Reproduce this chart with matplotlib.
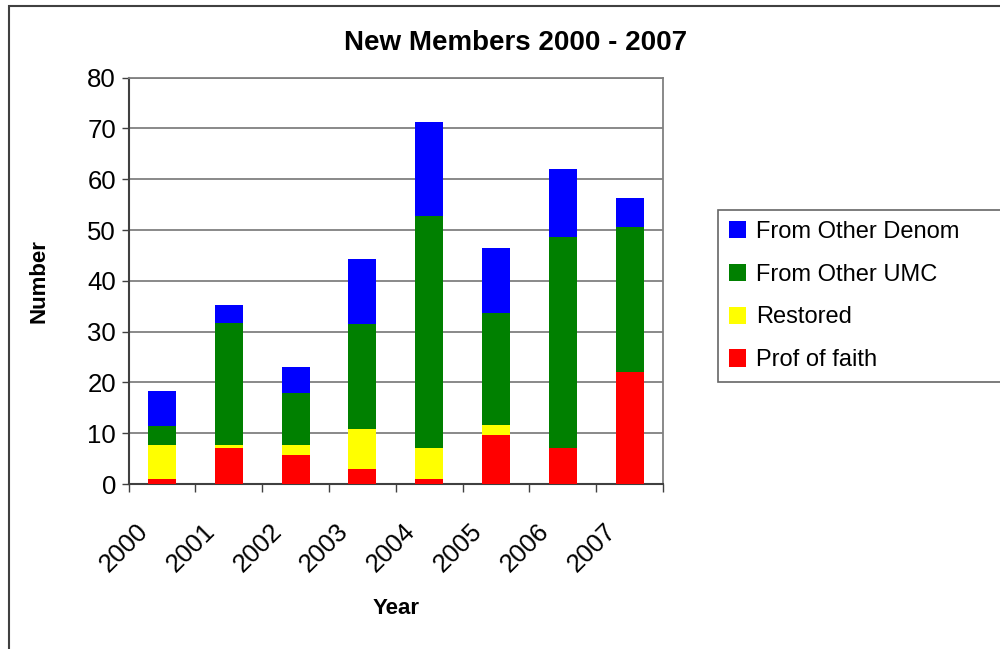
import numpy as np
import matplotlib
matplotlib.use("Agg")
import matplotlib.pyplot as plt
from matplotlib.patches import Rectangle
from matplotlib.ticker import FixedLocator, NullFormatter
from matplotlib.transforms import ScaledTranslation

plt.rcParams['font.family'] = ['Liberation Sans', 'DejaVu Sans']

# new members by year, split by how they joined
years = ['2000', '2001', '2002', '2003', '2004', '2005', '2006', '2007']
prof_of_faith = [1.0, 7.0, 5.7, 3.0, 1.0, 9.7, 7.0, 22.0]
restored = [6.7, 0.7, 2.0, 7.8, 6.0, 2.0, 0.0, 0.0]
from_other_umc = [3.8, 24.0, 10.3, 20.8, 45.7, 22.0, 41.7, 28.7]
from_other_denom = [6.8, 3.6, 5.1, 12.7, 18.6, 12.7, 13.4, 5.6]

series = [
    ('Prof of faith', prof_of_faith, '#ff0000'),
    ('Restored', restored, '#ffff00'),
    ('From Other UMC', from_other_umc, '#008000'),
    ('From Other Denom', from_other_denom, '#0000ff'),
]

fig = plt.figure(figsize=(10, 6.49), dpi=100)
ax = fig.add_axes([0.1285, 0.2542, 0.5345, 0.6261])

x = np.arange(len(years))
bottom = np.zeros(len(years))
bars = []
for name, vals, col in series:
    b = ax.bar(x, vals, width=0.42, bottom=bottom, color=col, label=name,
               edgecolor='none', zorder=3)
    bars.append(b)
    bottom += np.array(vals)

ax.set_xlim(-0.5, len(years) - 0.5)
ax.set_ylim(0, 80)
ax.set_yticks(np.arange(0, 81, 10))
ax.tick_params(axis='y', labelsize=18.5, length=5, width=1, color='#404040', pad=4)

# category labels at centres, tick marks between categories
ax.set_xticks(x)
ax.set_xticklabels(years, rotation=45, ha='right', va='top',
                   rotation_mode='anchor', fontsize=18.5)
ax.tick_params(axis='x', which='major', length=0, pad=25)
shift = ScaledTranslation(-0.26, 0, fig.dpi_scale_trans)
for lbl in ax.get_xticklabels():
    lbl.set_transform(lbl.get_transform() + shift)
ax.xaxis.set_minor_locator(FixedLocator(np.arange(-0.5, len(years), 1.0)))
ax.xaxis.set_minor_formatter(NullFormatter())
ax.tick_params(axis='x', which='minor', length=6, width=1, color='#404040')

ax.grid(axis='y', color='#808080', linewidth=1.3, zorder=0)
ax.set_axisbelow(True)
for side in ['top', 'right']:
    ax.spines[side].set_color('#808080')
    ax.spines[side].set_linewidth(1.3)
for side in ['left', 'bottom']:
    ax.spines[side].set_color('#404040')
    ax.spines[side].set_linewidth(1.5)

ax.set_ylabel('Number', fontsize=16, fontweight='bold')
ax.set_xlabel('Year', fontsize=16, fontweight='bold')
ax.yaxis.set_label_coords(-0.147, 0.5)
ax.xaxis.set_label_coords(0.5, -0.28)

fig.text(0.516, 0.923, 'New Members 2000 - 2007', ha='center', va='baseline',
         fontsize=20, fontweight='bold')

handles = bars[::-1]
labels = [s[0] for s in series][::-1]
leg = fig.legend(handles, labels, loc='upper left',
                 bbox_to_anchor=(0.718, 0.411, 0.30, 0.265), mode='expand',
                 fontsize=17, frameon=True, fancybox=False, borderpad=0.45,
                 labelspacing=0.88, handlelength=0.75, handleheight=0.75,
                 handletextpad=0.4, borderaxespad=0)
leg.get_frame().set_edgecolor('#404040')
leg.get_frame().set_linewidth(1.2)

# outer chart border
fig.patches.append(Rectangle((0.009, -0.1), 1.2, 1.0908, transform=fig.transFigure,
                             fill=False, edgecolor='#404040', linewidth=1.5))

fig.savefig('out.png', dpi=100)
